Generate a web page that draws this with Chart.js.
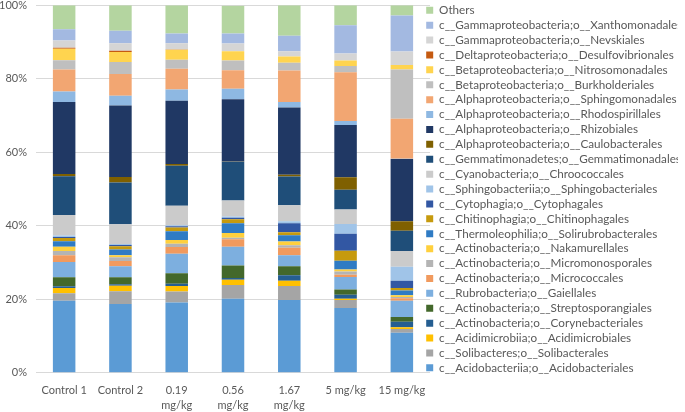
<!DOCTYPE html>
<html>
<head>
<meta charset="utf-8">
<script src="https://cdn.jsdelivr.net/npm/chart.js@4/dist/chart.umd.min.js"></script>
<style>
  body { margin: 0; background: #fff; }
  #mycanvas { display: block; }
</style>
</head>
<body>
<canvas id="mycanvas" width="685" height="412"></canvas>
<script>
// サンプル名（x軸）
const categories = ['Control 1', 'Control 2', ['0.19', 'mg/kg'], ['0.56', 'mg/kg'], ['1.67', 'mg/kg'], '5 mg/kg', '15 mg/kg'];

// 系列名（下から上の順）
const series_names = [
  'c__Acidobacteriia;o__Acidobacteriales',
  'c__Solibacteres;o__Solibacterales',
  'c__Acidimicrobiia;o__Acidimicrobiales',
  'c__Actinobacteria;o__Corynebacteriales',
  'c__Actinobacteria;o__Streptosporangiales',
  'c__Rubrobacteria;o__Gaiellales',
  'c__Actinobacteria;o__Micrococcales',
  'c__Actinobacteria;o__Micromonosporales',
  'c__Actinobacteria;o__Nakamurellales',
  'c__Thermoleophilia;o__Solirubrobacterales',
  'c__Chitinophagia;o__Chitinophagales',
  'c__Cytophagia;o__Cytophagales',
  'c__Sphingobacteriia;o__Sphingobacteriales',
  'c__Cyanobacteria;o__Chroococcales',
  'c__Gemmatimonadetes;o__Gemmatimonadales',
  'c__Alphaproteobacteria;o__Caulobacterales',
  'c__Alphaproteobacteria;o__Rhizobiales',
  'c__Alphaproteobacteria;o__Rhodospirillales',
  'c__Alphaproteobacteria;o__Sphingomonadales',
  'c__Betaproteobacteria;o__Burkholderiales',
  'c__Betaproteobacteria;o__Nitrosomonadales',
  'c__Deltaproteobacteria;o__Desulfovibrionales',
  'c__Gammaproteobacteria;o__Nevskiales',
  'c__Gammaproteobacteria;o__Xanthomonadales',
  'Others'
];

const series_colors = [
  '#5B9BD5', '#A5A5A5', '#FFC000', '#255E91', '#43682B',
  '#7DAFDF', '#F19A5E', '#B4B4B4', '#FFD03D', '#2F7BC4',
  '#C69A0E', '#3257A3', '#A0C4E8', '#CBCBCB', '#1F4E79',
  '#7F6000', '#203864', '#8EB8E2', '#F2A672', '#BFBFBF',
  '#FFD44F', '#C55A11', '#D5D5D5', '#A3B9E1', '#B4D5A0'
];

// 各サンプルの相対存在量（%、series_namesと同じ順）
const control1 = [19.6, 2.0, 1.45, 0.5, 2.4, 4.2, 1.8, 1.2, 1.1, 1.5, 0.9, 0.3, 0.4, 5.6, 10.5, 0.6, 19.6, 2.9, 6.0, 2.5, 3.1, 0.3, 2.0, 3.0, 6.55];
const control2 = [18.7, 3.5, 1.45, 0.45, 1.9, 3.0, 1.4, 1.0, 0.6, 1.5, 0.9, 0.35, 0.25, 5.4, 11.4, 1.5, 19.4, 2.7, 5.9, 3.3, 2.7, 0.35, 2.0, 3.4, 6.95];
const dose019 = [19.1, 3.0, 1.5, 0.6, 2.9, 5.3, 1.8, 0.9, 1.0, 2.4, 1.0, 0.35, 0.3, 5.3, 10.9, 0.45, 17.2, 3.1, 5.6, 2.5, 2.7, 0.05, 1.7, 2.7, 7.65];
const dose056 = [20.1, 3.8, 1.4, 0.5, 3.4, 5.1, 2.0, 0.4, 1.3, 2.7, 1.1, 0.35, 0.35, 4.4, 10.5, 0.1, 16.9, 2.9, 5.0, 2.7, 2.5, 0, 2.1, 2.7, 7.6];
const dose167 = [19.8, 3.8, 1.4, 1.5, 2.5, 3.0, 2.0, 0.7, 1.0, 1.7, 0.8, 2.5, 0.5, 4.4, 7.8, 0.45, 18.3, 1.5, 8.6, 2.1, 1.7, 0, 1.45, 4.2, 8.3];
const dose5 = [17.6, 2.2, 0.35, 1.1, 1.4, 3.4, 0.6, 0.9, 0.55, 2.4, 2.7, 4.6, 2.7, 3.9, 5.4, 3.4, 14.2, 1.1, 13.3, 1.7, 1.5, 0, 1.9, 7.7, 5.4];
const dose15 = [10.9, 1.0, 0.5, 1.45, 1.3, 4.4, 0.7, 0.35, 0.45, 1.3, 0.7, 2.0, 3.8, 4.3, 5.5, 2.6, 16.9, 0.1, 10.9, 13.4, 1.2, 0, 3.7, 9.8, 2.75];

// y軸の目盛り
const y_ticks = [0, 20, 40, 60, 80, 100];

const samples = [control1, control2, dose019, dose056, dose167, dose5, dose15];

// 系列ごとに並べ替え
const datasets = series_names.map((name, i) => ({
  label: name,
  data: samples.map(s => s[i]),
  backgroundColor: series_colors[i],
  borderWidth: 0,
  barPercentage: 0.4,
  categoryPercentage: 1.0
}));

const textColor = '#595959';

// 凡例の幅と位置の調整
const legendPlace = {
  id: 'legendPlace',
  beforeInit(chart) {
    const fit = chart.legend.fit;
    chart.legend.fit = function () {
      fit.call(this);
      this.width = 255;
    };
  },
  afterLayout(chart) {
    const lg = chart.legend;
    lg.left -= 7;
    lg.right -= 7;
    lg.top = 1.2;
  }
};

const ctx = document.querySelector('#mycanvas').getContext('2d');
const myChart = new Chart(ctx, {
  type: 'bar',
  data: {
    labels: categories,
    datasets: datasets
  },
  options: {
    responsive: false,
    animation: false,
    devicePixelRatio: 1,
    layout: { padding: { top: 5.3, right: 0, bottom: 0, left: 0 } },
    scales: {
      x: {
        stacked: true,
        grid: { display: false, drawTicks: false },
        border: { display: false },
        ticks: {
          color: textColor,
          font: { family: 'Lato', size: 11, lineHeight: 1.35 },
          padding: 10,
          maxRotation: 0,
          autoSkip: false
        },
        afterFit: (scale) => { scale.height = 39.3; }
      },
      y: {
        stacked: true,
        min: 0,
        max: 100,
        grid: { color: '#D9D9D9', drawTicks: false },
        border: { display: false },
        afterBuildTicks: (scale) => { scale.ticks = y_ticks.map(v => ({ value: v })); },
        ticks: {
          color: textColor,
          font: { family: 'Lato', size: 11 },
          padding: 9,
          callback: v => v + '%'
        },
        afterFit: (scale) => {
          scale.width = 36;
          scale.paddingTop = 0;
          scale.paddingBottom = 0;
        }
      }
    },
    plugins: {
      legend: {
        position: 'right',
        align: 'start',
        reverse: true,
        labels: {
          boxWidth: 7,
          boxHeight: 7,
          padding: 3.2,
          color: textColor,
          font: { family: 'Lato', size: 11.7 }
        }
      },
      tooltip: { enabled: false }
    }
  },
  plugins: [legendPlace]
});
</script>
</body>
</html>
